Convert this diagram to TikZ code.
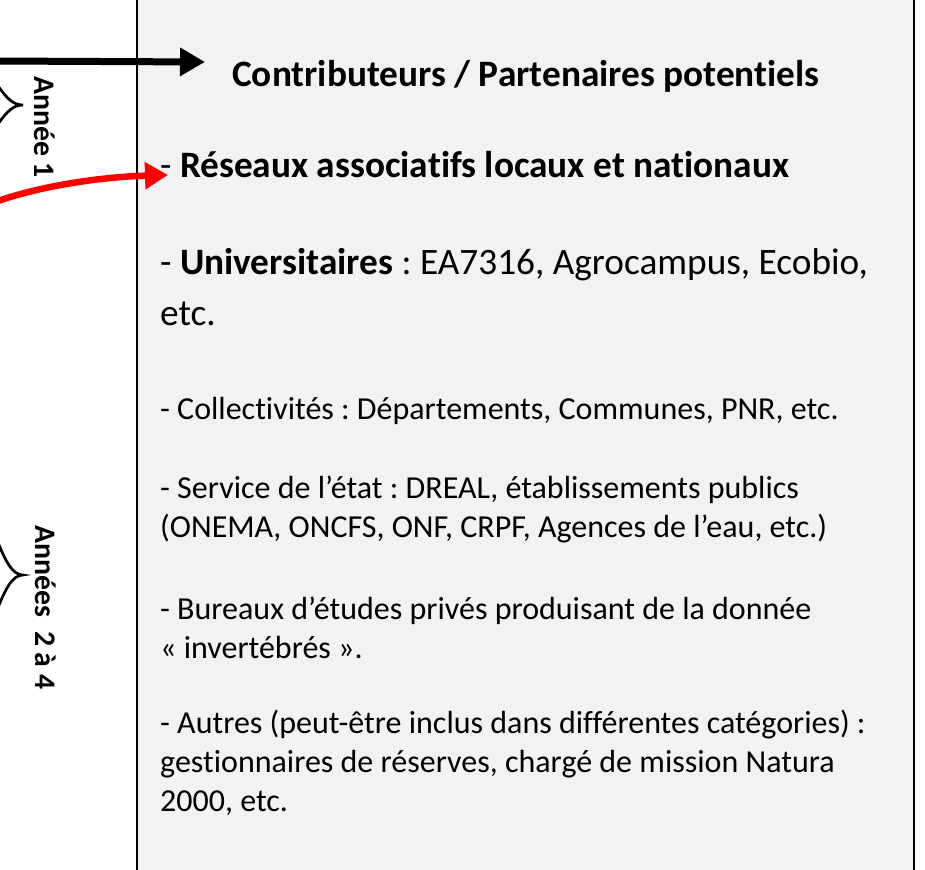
\documentclass[tikz,border=0pt]{standalone}
\usepackage{fontspec}
\setmainfont{Carlito}[Ligatures=NoCommon]
\usetikzlibrary{positioning, arrows.meta}
\definecolor{fondgris}{HTML}{F2F2F2}
\newcommand{\taillepetite}{\fontsize{32}{39}\selectfont}
\newcommand{\taillegrande}{\fontsize{37.3}{51}\selectfont}
\newcommand{\tailleannee}{\fontsize{29.8}{35}\selectfont}
\frenchspacing

\begin{document}
\begin{tikzpicture}[x=1pt, y=-1pt]
	\tikzstyle{texte} = [anchor=west, inner sep=0pt, align=left, font=\taillepetite]
	\tikzstyle{annee} = [rotate=-90, inner sep=0pt, font=\tailleannee\bfseries]
	\tikzstyle{accolade} = [draw, line width=2.7pt]

	\useasboundingbox (0,0) rectangle (925,869);
	\draw [fill=fondgris, line width=2pt] (137,-10) rectangle (914,880);

	\node [texte, font=\taillegrande\bfseries] (titre) at (232,76) {Contributeurs / Partenaires potentiels};
	\node [texte, font=\taillegrande] (reseaux) at (160,165) {- \textbf{Réseaux associatifs locaux et nationaux}};
	\node [texte, font=\taillegrande] (univ) at (160,287.5) {- \textbf{Universitaires} : EA7316, Agrocampus, Ecobio,\\etc.};
	\node [texte] (collect) at (160,411) {- Collectivités : Départements, Communes, PNR, etc.};
	\node [texte] (service) at (160,509.5) {- Service de l’état : DREAL, établissements publics\\(ONEMA, ONCFS, ONF, CRPF, Agences de l’eau, etc.)};
	\node [texte] (bureaux) at (160,627.5) {- Bureaux d’études privés produisant de la donnée\\«~invertébrés~».};
	\node [texte] (autres) at (160,762.5) {- Autres (peut-être inclus dans différentes catégories) :\\gestionnaires de réserves, chargé de mission Natura\\2000, etc.};

	\node [annee] (annee1) at (45,127) {Année 1};
	\node [annee] (annees) at (46,607.5) {Années\ \ 2 à 4};

	% fleches vers le cadre
	\coordinate (depart1) at (-5,61);
	\coordinate (depart2) at (-5,202);
	\draw [line width=7pt, -{Triangle[length=25pt, width=27pt]}] (depart1) -- ([xshift=-27pt, yshift=14pt]titre.west);
	\draw [red, line width=6.5pt, -{Triangle[length=23pt, width=26pt]}] (depart2) .. controls (40,186) and (100,177) .. ([xshift=8pt, yshift=-10pt]reseaux.west);

	% accolades
	\draw [accolade] (-2,86) .. controls (8,100) and (14,105) .. (23,105) .. controls (14,105) and (8,110) .. (-2,124);
	\draw [accolade] (-3,540) .. controls (5,560) and (12,575) .. (23,575) .. controls (12,575) and (5,590) .. (-3,610);
\end{tikzpicture}
\end{document}
